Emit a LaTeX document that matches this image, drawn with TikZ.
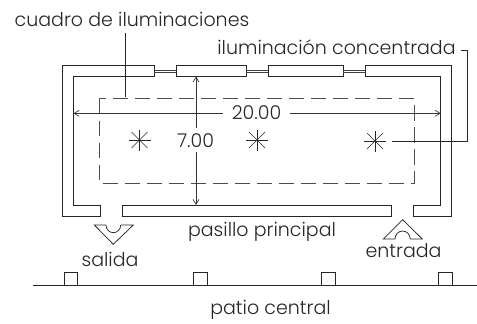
\documentclass[tikz,border=0pt]{standalone}
\usepackage{fontspec}
\setmainfont{Poppins Light}
\usetikzlibrary{arrows.meta}
\tikzset{
  wall/.style={draw=black!85,line width=0.75pt,line join=miter},
  glass/.style={draw=black!75,line width=0.7pt},
  dashrect/.style={draw=black!70,line width=0.8pt,dash pattern=on 15.5pt off 6.5pt},
  dim/.style={draw=black!80,line width=0.65pt,-{Straight Barb[length=5pt,width=6pt]}},
  lead/.style={draw=black!85,line width=0.65pt},
  lamp/.style={draw=black!85,line width=0.6pt},
  lbl/.style={inner sep=0pt,anchor=base,font=\fontsize{19}{22}\selectfont,text=black!85}
}
\begin{document}
\begin{tikzpicture}[x=1pt,y=-1pt]
\useasboundingbox (0,0) rectangle (477,324);
% walls
\draw[wall] (154.3,65.5) -- (62.5,65.5) -- (62.5,216) -- (100.7,216) -- (100.7,205) -- (73.5,205) -- (73.5,76.5) -- (154.3,76.5) -- cycle;
\draw[wall] (176,65.5) rectangle (246,76.5);
\draw[wall] (268.3,65.5) rectangle (343.3,76.5);
\draw[wall] (365.3,65.5) -- (451.7,65.5) -- (451.7,216) -- (413,216) -- (413,205) -- (440.7,205) -- (440.7,76.5) -- (365.3,76.5) -- cycle;
\draw[wall] (122.7,205) rectangle (391,216);
% windows
\foreach \a/\b in {154.3/176,246/268.3,343.3/365.3}{
  \draw[glass] (\a,70.3) -- (\b,70.3);
  \draw[glass] (\a,72.3) -- (\b,72.3);
}
% dashed
\draw[dashrect] (99,98.7) rectangle (414.3,183);
% dims
\node[lbl] (w) at (256.5,119.3) {20.00};
\node[lbl] (h) at (195.5,147) {7.00};
\coordinate (wl) at (73.5,113.3);
\coordinate (wr) at (440.7,113.3);
\coordinate (ht) at (196,76.5);
\coordinate (hb) at (196,205);
\draw[dim] (223,113.3) -- (wl);
\draw[dim] (290,113.3) -- (wr);
\draw[dim] (196,128) -- (ht);
\draw[dim] (196,152) -- (hb);
% lamps
\foreach \n/\x/\y in {a/139.5/140,b/257/140,c/375/141}{
  \coordinate (\n) at (\x,\y);
  \draw[lamp] (\x-11,\y) -- (\x+11,\y);
  \draw[lamp] (\x,\y-10.5) -- (\x,\y+10.5);
  \draw[lamp] (\x-8,\y-8) -- (\x+8,\y+8);
  \draw[lamp] (\x-8,\y+8) -- (\x+8,\y-8);
}
% labels
\node[lbl] (t1) at (132,26) {cuadro de iluminaciones};
\node[lbl] (t2) at (336.5,54) {iluminación concentrada};
\node[lbl] (t3) at (262,236.7) {pasillo principal};
\node[lbl] (t4) at (110,266) {salida};
\node[lbl] (t5) at (403.5,257.7) {entrada};
\node[lbl] (t6) at (270.5,314) {patio central};
% leaders
\coordinate (l1a) at (125,33);
\coordinate (l1b) at (125,97);
\draw[lead] (l1a) -- (l1b);
\draw[lead] (461,50.5) -- (467.7,50.5) -- (467.7,141.7) -- (392,141.7);
% door symbols
\draw[wall] (94.3,225) -- (133.3,225) -- (113.3,244.3) -- cycle;
\draw[draw=white,line width=1.2pt] (106,225) -- (120.7,225);
\draw[wall] (106,225) arc[start angle=180,end angle=0,x radius=7.35,y radius=7.7];
\draw[wall] (383.3,239) -- (422.3,239) -- (402.7,219.7) -- cycle;
\draw[draw=white,line width=1.2pt] (395,239) -- (410.2,239);
\draw[wall] (395,239) arc[start angle=-180,end angle=0,x radius=7.6,y radius=8];
% ground
\draw[wall] (33,285.7) -- (477,285.7);
\foreach \x in {64,193.5,321.7,438.3}{
  \draw[wall] (\x,272.3) rectangle (\x+13.6,285.7);
}
\end{tikzpicture}
\end{document}
